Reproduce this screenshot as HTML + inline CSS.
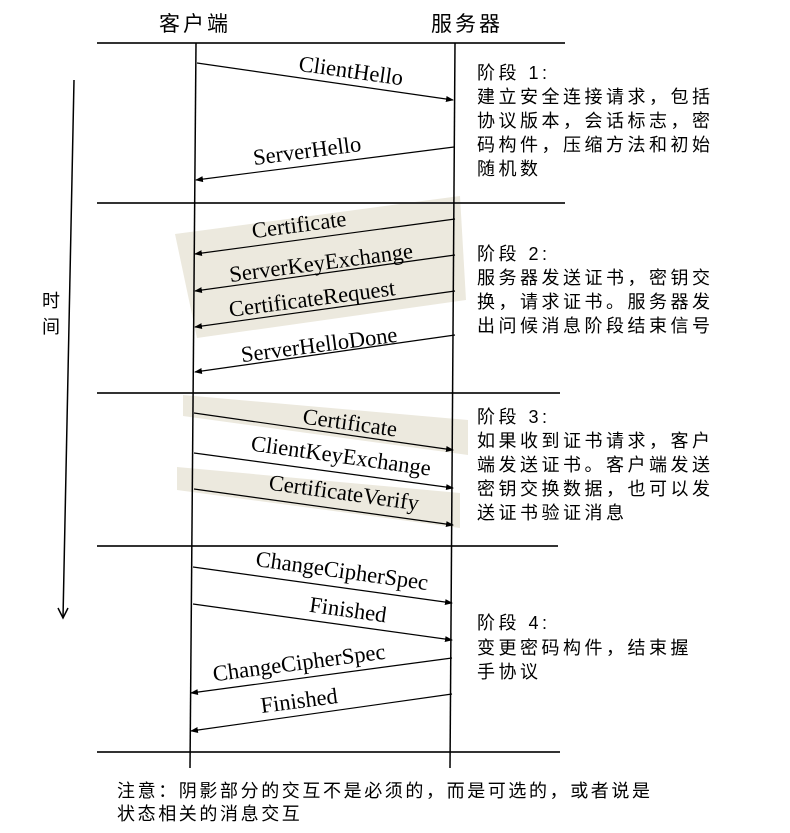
<!DOCTYPE html>
<html><head><meta charset="utf-8"><style>
html,body{margin:0;padding:0;background:#fff;}
svg{display:block;}
.cn{font-family:"Liberation Sans","Noto Sans CJK SC",sans-serif;font-size:18px;fill:#000;letter-spacing:3.5px;}
.lb{font-family:"Liberation Serif",serif;font-size:22.5px;fill:#000;}
</style></head><body>
<svg width="790" height="833" viewBox="0 0 790 833" xmlns="http://www.w3.org/2000/svg">
<defs><marker id="a" markerWidth="8" markerHeight="6" refX="7" refY="3" orient="auto" markerUnits="userSpaceOnUse"><path d="M0,0 L8,3 L0,6 z" fill="#000"/></marker></defs>
<g fill="#ece9de">
<polygon points="175,234 460,196 466,300 197,338"/>
<polygon points="183,395 468,420 468,455 183,416"/>
<polygon points="177,467 460,493 460,528 177,490"/>
</g>
<text x="159" y="31" class="cn" style="font-size:21px;letter-spacing:3px">客户端</text>
<text x="431" y="31" class="cn" style="font-size:21px;letter-spacing:3px">服务器</text>
<g stroke="#333" stroke-width="2">
<line x1="97" y1="43" x2="565" y2="43"/>
<line x1="97" y1="203" x2="565" y2="203"/>
<line x1="97" y1="393" x2="560" y2="393"/>
<line x1="97" y1="546" x2="558" y2="546"/>
<line x1="97" y1="752" x2="560" y2="752"/>
</g>
<g stroke="#000" stroke-width="1.5">
<line x1="196" y1="43" x2="190" y2="768"/>
<line x1="455" y1="43" x2="450" y2="768"/>
<line x1="74" y1="80" x2="63" y2="618"/>
<polyline points="58,608 63,618 68,608" fill="none"/>
</g>
<g stroke="#000" stroke-width="1.2" marker-end="url(#a)">
<line x1="197" y1="63" x2="453" y2="100"/>
<line x1="454" y1="147" x2="196" y2="180"/>
<line x1="455" y1="219" x2="195" y2="254"/>
<line x1="455" y1="255" x2="195" y2="291"/>
<line x1="455" y1="291" x2="195" y2="327"/>
<line x1="455" y1="335" x2="195" y2="372"/>
<line x1="194" y1="413" x2="453" y2="450"/>
<line x1="194" y1="453" x2="453" y2="488"/>
<line x1="194" y1="489" x2="453" y2="525"/>
<line x1="193" y1="567" x2="452" y2="603"/>
<line x1="193" y1="604" x2="452" y2="640"/>
<line x1="452" y1="658" x2="191" y2="693"/>
<line x1="452" y1="694" x2="191" y2="731"/>
</g>
<g class="lb" text-anchor="middle">
<text transform="translate(350,78) rotate(8)">ClientHello</text>
<text transform="translate(308,158) rotate(-7.5)">ServerHello</text>
<text transform="translate(300,232) rotate(-7.5)">Certificate</text>
<text transform="translate(322,270) rotate(-7.5)">ServerKeyExchange</text>
<text transform="translate(313,306) rotate(-7.5)">CertificateRequest</text>
<text transform="translate(320,352) rotate(-7.5)">ServerHelloDone</text>
<text transform="translate(349,430) rotate(8)">Certificate</text>
<text transform="translate(340,463) rotate(8)">ClientKeyExchange</text>
<text transform="translate(343,500) rotate(8)">CertificateVerify</text>
<text transform="translate(341,578) rotate(8)">ChangeCipherSpec</text>
<text transform="translate(347,617) rotate(8)">Finished</text>
<text transform="translate(300,670) rotate(-7.5)">ChangeCipherSpec</text>
<text transform="translate(300,708) rotate(-7.5)">Finished</text>
</g>
<text x="42" y="307" class="cn" style="letter-spacing:0">时</text>
<text x="42" y="333" class="cn" style="letter-spacing:0">间</text>
<g class="cn">
<text x="477" y="79">阶段 1:</text>
<text x="477" y="103">建立安全连接请求，包括</text>
<text x="477" y="127">协议版本，会话标志，密</text>
<text x="477" y="151">码构件，压缩方法和初始</text>
<text x="477" y="175">随机数</text>
<text x="477" y="260">阶段 2:</text>
<text x="477" y="284">服务器发送证书，密钥交</text>
<text x="477" y="308">换，请求证书。服务器发</text>
<text x="477" y="332">出问候消息阶段结束信号</text>
<text x="477" y="423">阶段 3:</text>
<text x="477" y="447">如果收到证书请求，客户</text>
<text x="477" y="471">端发送证书。客户端发送</text>
<text x="477" y="495">密钥交换数据，也可以发</text>
<text x="477" y="519">送证书验证消息</text>
<text x="477" y="629">阶段 4:</text>
<text x="477" y="654">变更密码构件，结束握</text>
<text x="477" y="678">手协议</text>
<text x="117" y="797" style="letter-spacing:2.6px">注意：阴影部分的交互不是必须的，而是可选的，或者说是</text>
<text x="117" y="820" style="letter-spacing:2.6px">状态相关的消息交互</text>
</g>
</svg>
</body></html>
